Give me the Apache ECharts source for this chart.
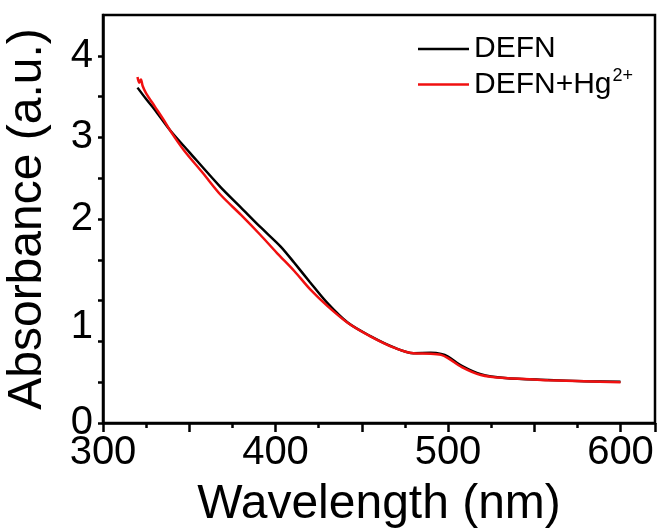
<!DOCTYPE html>
<html>
<head>
<meta charset="utf-8">
<script src="https://cdn.jsdelivr.net/npm/echarts@6/dist/echarts.min.js"></script>
<style>
html,body{margin:0;padding:0;background:#fff;}
#chart{width:659px;height:528px;}
</style>
</head>
<body>
<div id="chart"></div>
<script>
var seriesNames = ['DEFN', 'DEFN+Hg2+'];
var defnWavelength = [320, 325, 330, 339, 350, 368, 380, 391, 403, 411, 420, 430, 442, 455, 469, 480, 490, 496, 500, 508, 519, 533, 558, 579, 600];
var defnAbs = [3.61, 3.47, 3.34, 3.085, 2.82, 2.394, 2.14, 1.906, 1.662, 1.46, 1.225, 0.972, 0.728, 0.565, 0.423, 0.356, 0.36, 0.347, 0.315, 0.2, 0.098, 0.052, 0.028, 0.012, 0.004];
var hgWavelength = [320, 321, 322, 323, 325, 330, 335, 340, 347, 358, 368, 380, 391, 401, 411, 420, 430, 442, 455, 469, 480, 490, 496, 500, 508, 519, 533, 558, 579, 600];
var hgAbs = [3.74, 3.67, 3.71, 3.63, 3.54, 3.38, 3.22, 3.05, 2.84, 2.56, 2.30, 2.05, 1.81, 1.58, 1.36, 1.14, 0.935, 0.725, 0.562, 0.42, 0.354, 0.35, 0.335, 0.295, 0.185, 0.088, 0.05, 0.025, 0.012, 0.0];
// y tick labels as printed on the reference axis
var yTickLabels = {'4': '4', '3': '3', '2': '2', '0.5': '{up|1}', '-0.5': '0'};
var xTickLabels = [300, 400, 500, 600];

function pairs(xs, ys) { return xs.map(function (x, i) { return [x, ys[i]]; }); }

var FONT = 'Liberation Sans, Arial, sans-serif';
var chart = echarts.init(document.getElementById('chart'), null, {renderer: 'canvas'});
chart.setOption({
  animation: false,
  backgroundColor: '#fff',
  grid: {left: 103, right: 4, top: 15, bottom: 105, containLabel: false, outerBoundsMode: 'none',
         show: true, borderColor: '#000', borderWidth: 2.5, backgroundColor: 'transparent'},
  legend: {
    orient: 'vertical', left: 418, top: 34, padding: 0, itemWidth: 51, itemHeight: 2.5, itemGap: 3,
    icon: 'rect',
    textStyle: {fontFamily: FONT, fontSize: 30, color: '#000',
      rich: {n: {fontFamily: FONT, fontSize: 30, color: '#000'},
             sup: {fontFamily: FONT, fontSize: 18, color: '#000', padding: [0, 0, 17, 1]}}},
    formatter: function (name) {
      if (name === seriesNames[1]) return '{n|DEFN+Hg}{sup|2+}';
      return name;
    },
    data: seriesNames
  },
  xAxis: {
    type: 'value', min: 300, max: 620, interval: 50,
    name: 'Wavelength (nm)', nameLocation: 'middle', nameGap: 58,
    nameTextStyle: {fontFamily: FONT, fontSize: 48, color: '#000'},
    axisLine: {show: true, onZero: false, lineStyle: {color: '#000', width: 2.5}},
    axisTick: {show: true, inside: false, length: 9, lineStyle: {color: '#000', width: 2.5}},
    minorTick: {show: true, splitNumber: 2, length: 5, lineStyle: {color: '#000', width: 2.5}},
    axisLabel: {fontFamily: FONT, fontSize: 40, color: '#000', margin: 10,
      formatter: function (v) { return xTickLabels.indexOf(v) >= 0 ? String(v) : ''; }},
    splitLine: {show: false}
  },
  yAxis: {
    type: 'value', min: -0.5, max: 4.5, interval: 0.5,
    name: 'Absorbance (a.u.)', nameLocation: 'middle', nameGap: 51,
    nameTextStyle: {fontFamily: FONT, fontSize: 48, color: '#000'},
    axisLine: {show: true, onZero: false, lineStyle: {color: '#000', width: 2.5}},
    axisTick: {show: true, inside: false, length: 5, lineStyle: {color: '#000', width: 2.5}},
    axisLabel: {fontFamily: FONT, fontSize: 40, color: '#000', margin: 10,
      showMaxLabel: false,
      rich: {up: {fontFamily: FONT, fontSize: 40, color: '#000', padding: [0, 0, 28, 0]}},
      formatter: function (v) { var k = String(v); return yTickLabels.hasOwnProperty(k) ? yTickLabels[k] : ''; }},
    splitLine: {show: false}
  },
  series: [
    {name: seriesNames[0], type: 'line', data: pairs(defnWavelength, defnAbs), showSymbol: false, smooth: 0.3,
     lineStyle: {color: '#000', width: 2.5}, itemStyle: {color: '#000'}, z: 3},
    {name: seriesNames[1], type: 'line', data: pairs(hgWavelength, hgAbs), showSymbol: false, smooth: 0.3,
     lineStyle: {color: '#f01010', width: 2.5}, itemStyle: {color: '#f01010'}, z: 4}
  ]
});
</script>
</body>
</html>
